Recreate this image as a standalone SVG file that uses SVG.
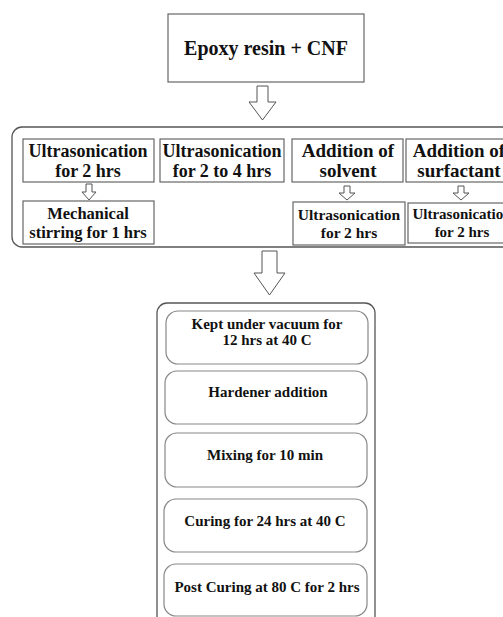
<svg xmlns="http://www.w3.org/2000/svg" width="503" height="617" viewBox="0 0 503 617">
<style>
text{font-family:"Liberation Serif","Times New Roman",serif;font-weight:bold;fill:#111;text-anchor:middle}
.box{fill:#fff;stroke:#666;stroke-width:1.2}
.rbox{fill:#fff;stroke:#888;stroke-width:1.2}
.cont{fill:#fff;stroke:#555;stroke-width:1.3}
.arr{fill:#fff;stroke:#555;stroke-width:1}
.t20{font-size:20px}.t19{font-size:19px}.t18{font-size:18px}.t17{font-size:16.5px}.t16{font-size:15.5px}.t15{font-size:15px}
</style>
<rect width="503" height="617" fill="#fff"/>
<g id="epoxy">
<rect class="box" x="168" y="14" width="196" height="68"/>
<text class="t20" x="266" y="55">Epoxy resin + CNF</text>
</g>
<g id="stage1">
<rect class="cont" x="12" y="127" width="510" height="120" rx="10"/>
</g>
<g id="us2">
<rect class="box" x="23" y="139" width="131" height="43"/>
<text class="t18" x="88" y="157">Ultrasonication</text>
<text class="t18" x="88" y="177">for 2 hrs</text>
</g>
<g id="mech">
<rect class="box" x="23" y="201" width="131" height="43"/>
<text class="t17" x="88" y="219">Mechanical</text>
<text class="t17" x="88" y="238">stirring for 1 hrs</text>
</g>
<g id="us24">
<rect class="box" x="160" y="139" width="124" height="43"/>
<text class="t18" x="222" y="157">Ultrasonication</text>
<text class="t18" x="222" y="177">for 2 to 4 hrs</text>
</g>
<g id="solvent">
<rect class="box" x="292" y="139" width="111" height="43"/>
<text class="t19" x="348" y="157">Addition of</text>
<text class="t19" x="348" y="177">solvent</text>
</g>
<g id="us-solvent">
<rect class="box" x="293" y="202" width="112" height="43"/>
<text class="t16" x="349" y="220">Ultrasonication</text>
<text class="t16" x="349" y="238">for 2 hrs</text>
</g>
<g id="surfactant">
<rect class="box" x="406" y="139" width="110" height="43"/>
<text class="t19" x="459" y="157">Addition of</text>
<text class="t19" x="459" y="177">surfactant</text>
</g>
<g id="us-surfactant">
<rect class="box" x="408" y="203" width="110" height="40"/>
<text class="t15" x="462" y="219">Ultrasonication</text>
<text class="t15" x="462" y="237">for 2 hrs</text>
</g>
<g id="stage2">
<rect class="cont" x="157" y="303" width="218" height="340" rx="10"/>
</g>
<g id="vacuum">
<rect class="rbox" x="166" y="311" width="202" height="53" rx="12"/>
<text class="t15" x="267" y="329">Kept under vacuum for</text>
<text class="t15" x="267" y="345">12 hrs at 40 C</text>
</g>
<g id="hardener">
<rect class="rbox" x="165" y="371" width="202" height="53" rx="12"/>
<text class="t15" x="268" y="397">Hardener addition</text>
</g>
<g id="mixing">
<rect class="rbox" x="165" y="433" width="202" height="54" rx="12"/>
<text class="t15" x="265" y="460">Mixing for 10 min</text>
</g>
<g id="curing">
<rect class="rbox" x="164" y="499" width="203" height="53" rx="12"/>
<text class="t15" x="265" y="526">Curing for 24 hrs at 40 C</text>
</g>
<g id="postcuring">
<rect class="rbox" x="164" y="564" width="203" height="52" rx="12"/>
<text class="t15" x="267" y="592">Post Curing at 80 C for 2 hrs</text>
</g>
<g id="connectors">
<polygon class="arr" points="257,86 268,86 268,102 276,102 262.5,120 249,102 257,102"/>
<polygon class="arr" points="262,251 277,251 277,273 285,273 269.5,295 254,273 262,273"/>
<polygon class="arr" points="86,184 92,184 92,192 96,192 89,200 82,192 86,192"/>
<polygon class="arr" points="344,186 350,186 350,193 355,193 347,200 339,193 344,193"/>
<polygon class="arr" points="458,186 464,186 464,193 469,193 461,200 453,193 458,193"/>
</g>
</svg>
